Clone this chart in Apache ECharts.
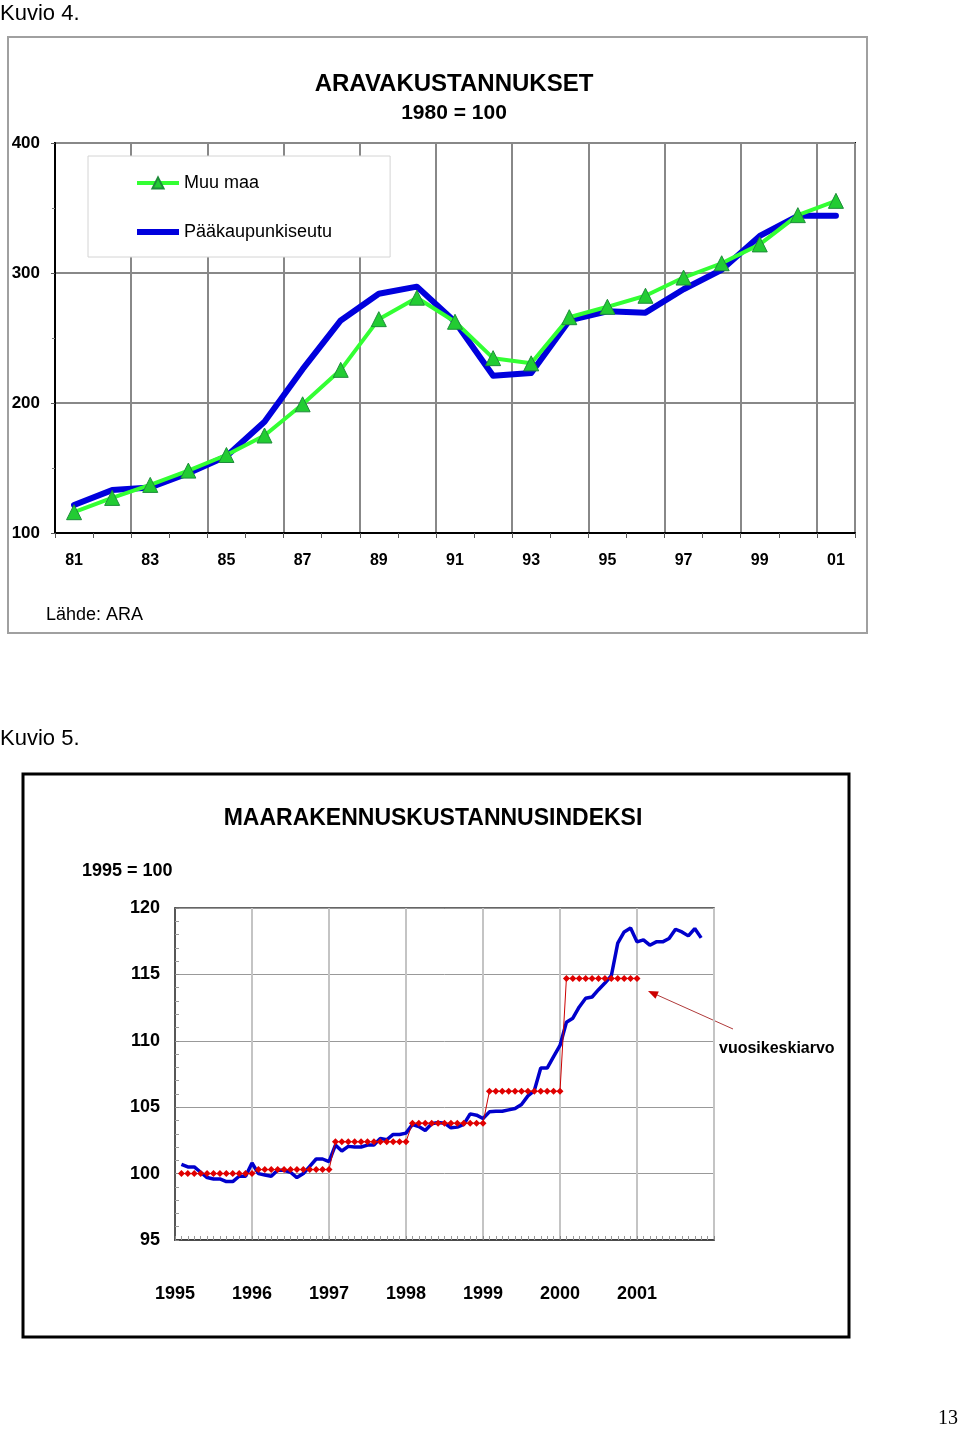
<!DOCTYPE html>
<html>
<head>
<meta charset="utf-8">
<script src="https://cdn.jsdelivr.net/npm/echarts@6/dist/echarts.min.js"></script>
<style>
html,body{margin:0;padding:0;background:#fff;}
#c{width:960px;height:1429px;}
</style>
</head>
<body>
<div id="c"></div>
<script>
// ---------- Kuvio 4 data ----------
var years4 = ['81','82','83','84','85','86','87','88','89','90','91','92','93','94','95','96','97','98','99','00','01'];
var muuMaa = [116,127,137,148,160,175,199,225.5,264.5,281,262.5,234.5,230.5,266,274,282.5,296.5,307.5,322,344.5,355.5];
var paakaupunkiseutu = [121.5,133,135,146,159,185.5,226,263.5,284,289.5,262.5,221,223,263.5,270.5,269.5,287.5,302.5,328.5,344,344];
var yTicks4 = [100,200,300,400];

// ---------- Kuvio 5 data ----------
var xYears5 = ['1995','1996','1997','1998','1999','2000','2001'];
var indeksi = [
 100.7,100.5,100.5,100.1,99.7,99.6,99.6,99.4,99.4,99.8,99.8,100.8,
 100.0,99.9,99.8,100.25,100.25,100.1,99.7,100.0,100.55,101.1,101.1,100.9,
 102.15,101.7,102.05,102.0,102.0,102.15,102.15,102.65,102.55,102.95,102.95,103.05,
 103.7,103.55,103.25,103.75,103.85,103.8,103.45,103.5,103.7,104.5,104.4,104.15,
 104.65,104.7,104.7,104.8,104.9,105.2,105.85,106.25,107.95,107.95,108.8,109.65,
 111.4,111.7,112.55,113.2,113.3,113.85,114.35,114.9,117.35,118.2,118.5,117.45,
 117.6,117.2,117.45,117.45,117.7,118.4,118.2,117.9,118.45,117.75
];
var vuosikeskiarvo = [100.0,100.3,102.4,103.8,106.2,114.7];

// derived series for the index chart (month position 1..n)
var indeksiData = indeksi.map(function(v,i){ return [i+1, v]; });
var keskiarvoData = [];
vuosikeskiarvo.forEach(function(v,y){
  for (var m=0;m<12;m++) keskiarvoData.push([y*12+m+1, v]);
});

var FF = 'Liberation Sans, Arial, Helvetica, sans-serif';

var chart = echarts.init(document.getElementById('c'), null, {renderer:'canvas'});

var option = {
  animation:false,
  backgroundColor:'#fff',
  textStyle:{fontFamily:FF},
  graphic:[
    // Kuvio 4
    {type:'text', x:0, y:14, style:{text:'Kuvio 4.', font:'22px '+FF, fill:'#000', textVerticalAlign:'middle'}},
    {type:'rect', shape:{x:8,y:37,width:859,height:596}, style:{fill:'none', stroke:'#a0a0a0', lineWidth:2}, z:-1},
    {type:'text', x:454, y:84, style:{text:'ARAVAKUSTANNUKSET', font:'bold 24px '+FF, fill:'#000', textAlign:'center', textVerticalAlign:'middle'}},
    {type:'text', x:454, y:113, style:{text:'1980 = 100', font:'bold 21px '+FF, fill:'#000', textAlign:'center', textVerticalAlign:'middle'}},
    {type:'text', x:46, y:615, style:{text:'Lähde: ARA', font:'18px '+FF, fill:'#000', textVerticalAlign:'middle'}},
    // Kuvio 5
    {type:'text', x:0, y:739, style:{text:'Kuvio 5.', font:'22px '+FF, fill:'#000', textVerticalAlign:'middle'}},
    {type:'rect', shape:{x:23,y:774,width:826,height:563}, style:{fill:'none', stroke:'#000', lineWidth:3}, z:-1},
    {type:'text', x:433, y:819, style:{text:'MAARAKENNUSKUSTANNUSINDEKSI', font:'bold 23px '+FF, fill:'#000', textAlign:'center', textVerticalAlign:'middle'}},
    {type:'text', x:82, y:871, style:{text:'1995 = 100', font:'bold 18px '+FF, fill:'#000', textVerticalAlign:'middle'}},
    {type:'text', x:719, y:1049, style:{text:'vuosikeskiarvo', font:'bold 16px '+FF, fill:'#000', textVerticalAlign:'middle'}},
    {type:'line', shape:{x1:733,y1:1029,x2:656,y2:994.5}, style:{stroke:'#b03a3a', lineWidth:1}},
    {type:'polygon', shape:{points:[[648,991],[658.8,991.4],[655.5,998.7]]}, style:{fill:'#cc0000'}},
    // page number
    {type:'text', x:958, y:1419, style:{text:'13', font:'20px Liberation Serif, Times New Roman, serif', fill:'#000', textAlign:'right', textVerticalAlign:'middle'}}
  ],
  legend:{
    orient:'vertical',
    left:88, top:156,
    data:[
      {name:'Muu maa', lineStyle:{width:4, color:'#33ff33'}},
      {name:'Pääkaupunkiseutu', icon:'path://M0,0 L42,0 L42,6 L0,6 Z', itemStyle:{color:'#0000dd'}}
    ],
    itemWidth:42, itemHeight:14, itemGap:31,
    padding:[18,58,16,47],
    backgroundColor:'#fff',
    borderColor:'#d4d4d4', borderWidth:1,
    textStyle:{fontSize:18, color:'#000', fontFamily:FF}
  },
  grid:[
    {left:55, top:143, width:800, height:390, show:true, borderColor:'#000', borderWidth:2, backgroundColor:'transparent'},
    {left:175, top:908, width:539, height:332, show:true, borderColor:'#333', borderWidth:1.5, backgroundColor:'transparent'}
  ],
  xAxis:[
    {
      gridIndex:0, type:'category', data:years4, boundaryGap:true,
      axisLine:{show:true, lineStyle:{color:'#000', width:2}},
      axisTick:{show:true, interval:0, length:5, lineStyle:{color:'#555'}},
      axisLabel:{interval:1, margin:20, color:'#000', fontSize:16, fontWeight:'bold', fontFamily:FF},
      splitLine:{show:true, interval:1, lineStyle:{color:'#888', width:2}}
    },
    {
      gridIndex:1, type:'value', min:0, max:84, interval:12,
      axisLine:{show:true, lineStyle:{color:'#333', width:1.5}},
      axisTick:{show:true, inside:true, length:4, lineStyle:{color:'#888'}},
      minorTick:{show:true, splitNumber:12, length:4, lineStyle:{color:'#999'}},
      axisLabel:{margin:45, color:'#000', fontSize:18, fontWeight:'bold', fontFamily:FF,
        formatter:function(v){ var k=Math.round(v/12); return xYears5[k] || ''; }},
      splitLine:{show:true, lineStyle:{color:'#c4c4c4', width:2}}
    }
  ],
  yAxis:[
    {
      gridIndex:0, type:'value', min:100, max:400, interval:100,
      axisLine:{show:true, lineStyle:{color:'#000', width:2}},
      axisTick:{show:true, length:4, lineStyle:{color:'#555'}},
      minorTick:{show:true, splitNumber:2, length:3, lineStyle:{color:'#777'}},
      axisLabel:{margin:15, color:'#000', fontSize:17, fontWeight:'bold', fontFamily:FF,
        formatter:function(v){ return yTicks4.indexOf(v)>=0 ? String(v) : ''; }},
      splitLine:{show:true, lineStyle:{color:'#888', width:2}}
    },
    {
      gridIndex:1, type:'value', min:95, max:120, interval:5,
      axisLine:{show:true, lineStyle:{color:'#333', width:1.5}},
      axisTick:{show:true, inside:true, length:4, lineStyle:{color:'#888'}},
      minorTick:{show:true, splitNumber:5, length:4, lineStyle:{color:'#999'}},
      axisLabel:{margin:15, color:'#000', fontSize:18, fontWeight:'bold', fontFamily:FF},
      splitLine:{show:true, lineStyle:{color:'#999', width:1}}
    }
  ],
  series:[
    {
      name:'Pääkaupunkiseutu', type:'line', xAxisIndex:0, yAxisIndex:0,
      data:paakaupunkiseutu, symbol:'none',
      lineStyle:{color:'#0000dd', width:6, join:'round', cap:'round'},
      itemStyle:{color:'#0000dd'}, z:2
    },
    {
      name:'Muu maa', type:'line', xAxisIndex:0, yAxisIndex:0,
      data:muuMaa, symbol:'triangle', symbolSize:15,
      lineStyle:{color:'#33ff33', width:4},
      itemStyle:{color:'#22cc33', borderColor:'#1e8c3a', borderWidth:1},
      z:3
    },
    {
      name:'Indeksi', type:'line', xAxisIndex:1, yAxisIndex:1,
      data:indeksiData, symbol:'none',
      lineStyle:{color:'#0000cc', width:3.5},
      itemStyle:{color:'#0000cc'}, z:2
    },
    {
      name:'Vuosikeskiarvo', type:'line', xAxisIndex:1, yAxisIndex:1,
      data:keskiarvoData, symbol:'diamond', symbolSize:7,
      lineStyle:{color:'#cc0000', width:1},
      itemStyle:{color:'#e00000'}, z:3
    }
  ]
};
chart.setOption(option);
</script>
</body>
</html>
